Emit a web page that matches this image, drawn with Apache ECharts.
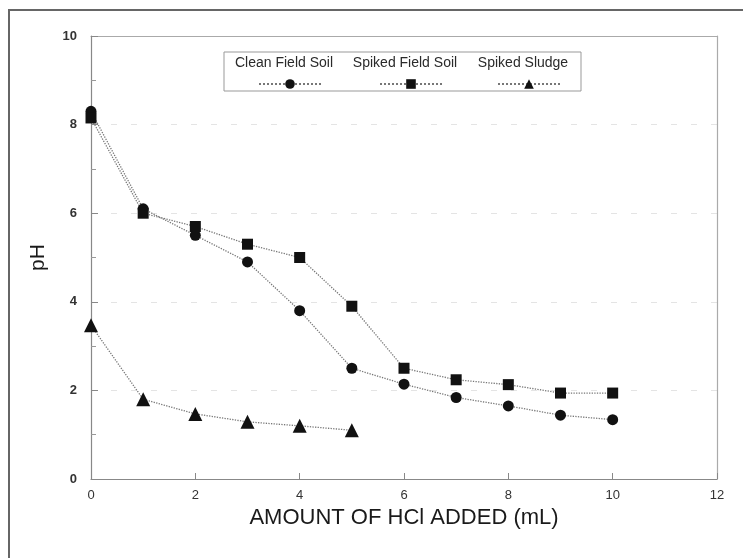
<!DOCTYPE html>
<html>
<head>
<meta charset="utf-8">
<script src="https://cdn.jsdelivr.net/npm/echarts@6/dist/echarts.min.js"></script>
<style>
  html, body { margin: 0; padding: 0; background: #fff; }
  #main { width: 743px; height: 558px; }
</style>
</head>
<body>
<div id="main"></div>
<script>
// ml HCl added
var xClean = [0, 1, 2, 3, 4, 5, 6, 7, 8, 9, 10];
var cleanSoil = [8.3, 6.1, 5.5, 4.9, 3.8, 2.5, 2.14, 1.84, 1.65, 1.44, 1.34];
var xSpiked = [0, 1, 2, 3, 4, 5, 6, 7, 8, 9, 10];
var spikedSoil = [8.15, 6.0, 5.7, 5.3, 5.0, 3.9, 2.5, 2.24, 2.13, 1.94, 1.94];
var xSludge = [0, 1, 2, 3, 4, 5];
var spikedSludge = [3.47, 1.8, 1.47, 1.29, 1.2, 1.1];
var seriesNames = ['Clean Field Soil', 'Spiked Field Soil', 'Spiked Sludge'];
var symbols = ['circle', 'rect', 'triangle'];

function pairs(xs, ys) {
    return xs.map(function (x, i) { return [x, ys[i]]; });
}

var myChart = echarts.init(document.getElementById('main'));
var font = 'Liberation Sans, Arial, sans-serif';
var symSizes = [11, 11, 14];

var series = [pairs(xClean, cleanSoil), pairs(xSpiked, spikedSoil), pairs(xSludge, spikedSludge)].map(function (d, i) {
    return {
        name: seriesNames[i],
        type: 'line',
        data: d,
        symbol: symbols[i],
        symbolSize: symSizes[i],
        itemStyle: { color: '#111' },
        lineStyle: { color: '#777', width: 1.3, type: 'dotted' },
        z: 3
    };
});

// legend: text above a dotted sample line with the marker, like the original
var legendCx = [284, 405, 523];
var legends = seriesNames.map(function (n, i) {
    return {
        data: [n],
        left: legendCx[i] - 31,
        top: 73,
        itemWidth: 62,
        itemHeight: 12,
        formatter: function () { return ''; },
        selectedMode: false,
        textStyle: { fontSize: 1 }
    };
});

var graphics = [
    { type: 'rect', shape: { x: 9, y: 10, width: 800, height: 600 }, style: { fill: 'none', stroke: '#666', lineWidth: 2 }, silent: true },
    { type: 'rect', shape: { x: 224, y: 52, width: 357, height: 39 }, style: { fill: '#fff', stroke: '#999', lineWidth: 1 }, z: 1 }
];
seriesNames.forEach(function (n, i) {
    graphics.push({
        type: 'text', x: legendCx[i], y: 63, z: 2,
        style: { text: n, fill: '#2a2a2a', font: '14px ' + font, align: 'center', verticalAlign: 'middle' }
    });
});

var option = {
    animation: false,
    backgroundColor: '#fff',
    grid: { left: 91, right: 26, top: 36, bottom: 79 },
    legend: legends,
    graphic: graphics,
    xAxis: [{
        type: 'value', min: 0, max: 12, interval: 2,
        name: 'AMOUNT OF HCl ADDED (mL)', nameLocation: 'middle', nameGap: 27,
        nameTextStyle: { fontFamily: font, fontSize: 22, color: '#1a1a1a' },
        axisLine: { lineStyle: { color: '#888', width: 1.2 } },
        axisTick: { inside: true, length: 6, lineStyle: { color: '#888' } },
        axisLabel: { fontFamily: font, fontSize: 13, color: '#333', margin: 10 },
        splitLine: { show: false }
    }, {
        type: 'value', min: 0, max: 12, position: 'top',
        axisLine: { show: true, onZero: false, lineStyle: { color: '#aaa', width: 1.2 } },
        axisTick: { show: false }, axisLabel: { show: false }, splitLine: { show: false }
    }],
    yAxis: [{
        type: 'value', min: 0, max: 10, interval: 2,
        name: 'pH', nameLocation: 'middle', nameGap: 42,
        nameTextStyle: { fontFamily: font, fontSize: 21, color: '#1a1a1a' },
        axisLine: { show: true, lineStyle: { color: '#888', width: 1.2 } },
        axisTick: { inside: true, length: 7, lineStyle: { color: '#888' } },
        minorTick: { show: true, splitNumber: 2, length: 5, lineStyle: { color: '#999' } },
        axisLabel: { fontFamily: font, fontSize: 13, fontWeight: 'bold', color: '#333', margin: 14 },
        splitLine: { show: true, lineStyle: { color: '#e4e4e4', type: [6, 14], width: 1 } }
    }, {
        type: 'value', min: 0, max: 10, position: 'right',
        axisLine: { show: true, onZero: false, lineStyle: { color: '#aaa', width: 1.2 } },
        axisTick: { show: false }, axisLabel: { show: false }, splitLine: { show: false }
    }],
    series: series
};

myChart.setOption(option);
</script>
</body>
</html>
